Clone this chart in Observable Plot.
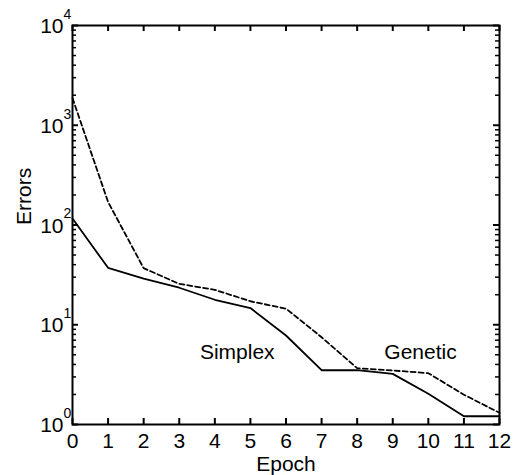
<!DOCTYPE html>
<html>
<head>
<meta charset="utf-8">
<script src="https://cdn.jsdelivr.net/npm/d3@7"></script>
<script src="https://cdn.jsdelivr.net/npm/@observablehq/plot@0.6"></script>
<style>
  html, body { margin: 0; padding: 0; background: #fff; }
  svg { font-family: "Liberation Sans", Arial, sans-serif; }
</style>
</head>
<body>
<div id="chart"></div>
<script>
const epochs = [0, 1, 2, 3, 4, 5, 6, 7, 8, 9, 10, 11, 12];
const simplex = [116, 37.2, 29, 23.5, 17.8, 14.7, 7.8, 3.5, 3.5, 3.22, 2.03, 1.21, 1.21];
const genetic = [1870, 170, 36.9, 25.7, 22.4, 17.2, 14.5, 7.5, 3.67, 3.48, 3.27, 1.99, 1.31];
const xTicks = [0, 1, 2, 3, 4, 5, 6, 7, 8, 9, 10, 11, 12];
const yMajor = [1, 10, 100, 1000, 10000];
const yExponents = ["0", "1", "2", "3", "4"];
const yMinor = [];
for (const d of [1, 10, 100, 1000]) for (let m = 2; m <= 9; m++) yMinor.push(d * m);
const annotations = [
  {epoch: 4.63, value: 5.27, text: "Simplex"},
  {epoch: 9.78, value: 5.27, text: "Genetic"}
];

const rows = (vals, series) => epochs.map((e, i) => ({epoch: e, value: vals[i], series}));
const simplexData = rows(simplex, "Simplex");
const geneticData = rows(genetic, "Genetic");
const yLabels = yMajor.map((v, i) => ({value: v, exp: yExponents[i]}));

const W = 513, H = 475, ML = 72, MR = 14, MT = 25, MB = 51;
const FW = W - ML - MR, FH = H - MT - MB;

const chart = Plot.plot({
  width: W,
  height: H,
  marginLeft: ML,
  marginRight: MR,
  marginTop: MT,
  marginBottom: MB,
  style: {fontFamily: "Liberation Sans, Arial, sans-serif", background: "#fff", color: "#000"},
  x: {domain: [0, 12], axis: null},
  y: {type: "log", domain: [1, 10000], axis: null},
  marks: [
    // inward ticks
    Plot.tickX(xTicks, {x: d => d, insetTop: FH - 6, stroke: "#000", strokeWidth: 2}),
    Plot.tickX(xTicks, {x: d => d, insetBottom: FH - 6, stroke: "#000", strokeWidth: 2}),
    Plot.tickY(yMajor, {y: d => d, insetRight: FW - 6, stroke: "#000", strokeWidth: 2}),
    Plot.tickY(yMajor, {y: d => d, insetLeft: FW - 6, stroke: "#000", strokeWidth: 2}),
    Plot.tickY(yMinor, {y: d => d, insetRight: FW - 4, stroke: "#000", strokeWidth: 1.5}),
    Plot.tickY(yMinor, {y: d => d, insetLeft: FW - 4, stroke: "#000", strokeWidth: 1.5}),
    // x tick labels
    Plot.text(xTicks, {x: d => d, frameAnchor: "bottom", text: d => String(d), lineAnchor: "top", dy: 9, fontSize: 21}),
    // y tick labels 10^k
    Plot.text(yLabels, {y: "value", frameAnchor: "left", text: () => "10", textAnchor: "end", dx: -9, dy: 1, fontSize: 21}),
    Plot.text(yLabels, {y: "value", frameAnchor: "left", text: "exp", textAnchor: "start", dx: -9, dy: -11, fontSize: 14}),
    // axis titles
    Plot.text(["Epoch"], {frameAnchor: "bottom", lineAnchor: "middle", dy: 40, fontSize: 21}),
    Plot.text(["Errors"], {frameAnchor: "left", dx: -48, rotate: -90, fontSize: 21}),
    // lines
    Plot.line(simplexData, {x: "epoch", y: "value", stroke: "#000", strokeWidth: 1.8}),
    Plot.line(geneticData, {x: "epoch", y: "value", stroke: "#000", strokeWidth: 1.8, strokeDasharray: "5,3"}),
    Plot.text(annotations, {x: "epoch", y: "value", text: "text", fontSize: 21}),
    Plot.frame({stroke: "#000", strokeWidth: 2})
  ]
});
document.getElementById("chart").appendChild(chart);
</script>
</body>
</html>
